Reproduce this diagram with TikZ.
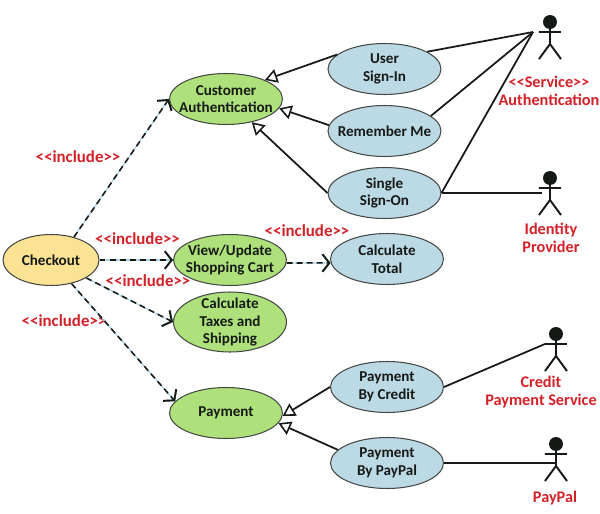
\documentclass[tikz,border=0pt]{standalone}
\usepackage{fontspec}
\setmainfont{Carlito}
\usetikzlibrary{shapes.geometric,arrows.meta}
\definecolor{ucGreen}{HTML}{AEE17B}
\definecolor{ucBlue}{HTML}{BCD9E6}
\definecolor{ucYellow}{HTML}{FBE393}
\definecolor{lblRed}{HTML}{D42027}
\definecolor{inkBlack}{HTML}{161A16}
\definecolor{halo}{HTML}{A9D3E3}
\tikzset{
	usecase/.style={ellipse, draw=inkBlack!80, line width=.6pt, inner sep=-14pt, minimum width=2.26cm, minimum height=1.02cm, align=center, text=inkBlack, font=\fontsize{8.6}{10}\selectfont\bfseries},
	lbl/.style={text=lblRed, align=center, inner sep=0pt, font=\fontsize{9.25}{10.3}\selectfont\bfseries},
	incllbl/.style={lbl, font=\fontsize{9.6}{10.3}\selectfont\bfseries},
	gen/.style={draw=inkBlack, line width=1pt, -{Triangle[open, length=7pt, width=8pt, line width=.9pt]}},
	assoc/.style={draw=inkBlack, line width=1pt},
	incl/.style={draw=inkBlack, line width=.9pt, dash pattern=on 3.4pt off 2.3pt, -{Straight Barb[length=4pt, width=10pt, line width=1.1pt]}, preaction={draw=halo, solid, line width=.7pt}},
	actor/.pic={
		\fill[inkBlack] (0,0) circle (7);
		\draw[inkBlack, line width=1.1pt] (-11,10) -- (11,10) (0,5) -- (0,22) (-11,37) -- (0,22) -- (11,37);
		\coordinate (-hand) at (-17,10);
		\coordinate (-arm) at (-11,10);
		\coordinate (-side) at (-8,15);
		\coordinate (-body) at (0,19);
	},
}
\begin{document}
\begin{tikzpicture}[x=.02cm, y=-.02cm]
	\useasboundingbox (0,0) rectangle (600,514);

	% base use cases
	\node[usecase, fill=ucYellow, minimum width=1.92cm] (checkout) at (51,260) {Checkout};
	\node[usecase, fill=ucGreen] (custAuth) at (226,99) {Customer\\Authentication};
	\node[usecase, fill=ucGreen] (viewCart) at (230,260) {View/Update\\Shopping Cart};
	\node[usecase, fill=ucGreen, minimum height=1.2cm] (calcTaxes) at (230,322) {Calculate\\Taxes and\\Shipping};
	\node[usecase, fill=ucGreen] (payment) at (226,413) {Payment};

	% specialised use cases
	\node[usecase, fill=ucBlue] (userSignIn) at (384.5,69) {User\\Sign-In};
	\node[usecase, fill=ucBlue] (rememberMe) at (384.5,131) {Remember Me};
	\node[usecase, fill=ucBlue] (singleSignOn) at (384.5,193) {Single\\Sign-On};
	\node[usecase, fill=ucBlue] (calcTotal) at (387,259) {Calculate\\Total};
	\node[usecase, fill=ucBlue] (payCredit) at (387,387) {Payment\\By Credit};
	\node[usecase, fill=ucBlue] (payPaypal) at (387,463) {Payment\\By PayPal};

	% actors
	\pic (authActor) at (550,22) {actor};
	\pic (idActor) at (550,178) {actor};
	\pic (creditActor) at (556,334) {actor};
	\pic (paypalActor) at (556,444) {actor};

	% labels
	\node[incllbl] (inclAuth) at (78,157) {<{}<include>{}>};
	\node[incllbl] (inclCart) at (137.5,239) {<{}<include>{}>};
	\node[incllbl] (inclTotal) at (307,231) {<{}<include>{}>};
	\node[incllbl] (inclTaxes) at (148,281) {<{}<include>{}>};
	\node[incllbl] (inclPay) at (64,321) {<{}<include>{}>};
	\node[lbl] (authLabel) at (549,91) {<{}<Service>{}>\\Authentication};
	\node[lbl] (idLabel) at (551,238) {Identity\\Provider};
	\node[lbl] (creditLabel) at (541,392) {Credit\\Payment Service};
	\node[lbl] (paypalLabel) at (555,498) {PayPal};

	% include
	\draw[incl] (checkout.45) -- (custAuth.west);
	\draw[incl] (checkout.east) -- (viewCart.west);
	\draw[incl] (checkout.-27) -- (calcTaxes.west);
	\draw[incl] (checkout.-49) -- (payment.167);
	\draw[incl] (viewCart.-3) -- (calcTotal.-176);

	% generalisation
	\draw[gen] (userSignIn.163) -- (custAuth.26);
	\draw[gen] (rememberMe.174) -- (custAuth.-10);
	\draw[gen] (singleSignOn.west) -- (custAuth.-42);
	\draw[gen] (payCredit.west) -- (payment.-3);
	\draw[gen] (payPaypal.165) -- (payment.-11);

	% actor links
	\draw[assoc] (userSignIn.22) -- (authActor-hand);
	\draw[assoc] (rememberMe.18) -- (authActor-hand);
	\draw[assoc] (singleSignOn.east) -- (authActor-hand);
	\draw[assoc] (singleSignOn.east) -- (idActor-side);
	\draw[assoc] (payCredit.east) -- (creditActor-arm);
	\draw[assoc] (payPaypal.east) -- (paypalActor-body);
\end{tikzpicture}
\end{document}
